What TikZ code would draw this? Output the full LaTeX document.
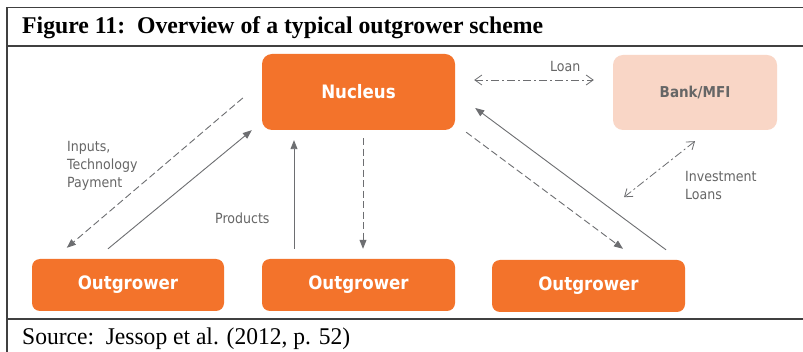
\documentclass[tikz,border=0pt]{standalone}
\usepackage{fontspec}
\usepackage{graphicx}
\setmainfont{Liberation Serif}
\newfontfamily\labfont{DejaVu Sans Condensed}
\usetikzlibrary{arrows.meta,calc}
\definecolor{orng}{HTML}{F3732B}
\definecolor{peach}{HTML}{F9D6C6}
\definecolor{txtgray}{HTML}{666666}
\definecolor{arrgray}{HTML}{6D6E71}
\definecolor{framegray}{HTML}{404040}
\tikzset{
  mainbox/.style={draw=none,fill=orng,rounded corners=10pt,text=white,font=\labfont\bfseries\fontsize{18.5}{20}\selectfont,inner sep=0pt},
  growbox/.style={mainbox,rounded corners=8pt},
  bankbox/.style={draw=none,fill=peach,rounded corners=10pt,text=txtgray,font=\labfont\bfseries\fontsize{15}{17}\selectfont,inner sep=0pt},
  lbl/.style={text=txtgray,font=\labfont\fontsize{14}{18}\selectfont,align=left,inner sep=0pt,anchor=west},
  flowsolid/.style={draw=arrgray,line width=0.9pt,-{Triangle[length=9pt,width=7pt]}},
  flowdash/.style={flowsolid,dash pattern=on 7pt off 3.5pt},
  flowloan/.style={draw=arrgray,line width=0.8pt,dash pattern=on 8pt off 3pt on 2pt off 3pt,{Straight Barb[length=7pt,width=10pt]}-{Straight Barb[length=7pt,width=10pt]}},
  framel/.style={draw=framegray,line width=1.4pt}
}
\begin{document}
\begin{tikzpicture}[x=1pt,y=-1pt]
\useasboundingbox (0,0) rectangle (803,352);
\fill[white] (0,0) rectangle (803,352);
% frame
\draw[framel] (803,7.5) -- (7,7.5) -- (7,352);
\draw[framel] (7,46) -- (803,46);
\draw[framel] (7,319) -- (803,319);
\node[anchor=base west,inner sep=0pt,font=\bfseries\fontsize{24}{26}\selectfont] (title) at (22,34) {\resizebox{521pt}{\height}{Figure 11:\ \ Overview of a typical outgrower scheme}};
\node[anchor=base west,inner sep=0pt,font=\fontsize{24}{26}\selectfont] (source) at (22,345) {\resizebox{328pt}{\height}{Source:\ \ Jessop et al. (2012, p. 52)}};
% boxes
\node[mainbox,minimum width=193pt,minimum height=76pt] (nuc) at (358.5,92) {Nucleus};
\node[bankbox,minimum width=164pt,minimum height=75pt] (bank) at (695,92.5) {Bank/MFI};
\node[growbox,minimum width=192pt,minimum height=52pt] (o1) at (128,285) {Outgrower};
\node[growbox,minimum width=193pt,minimum height=52pt] (o2) at (358.5,285) {Outgrower};
\node[growbox,minimum width=193pt,minimum height=52pt] (o3) at (588.5,286) {Outgrower};
% connectors
\draw[flowdash] ($(nuc.west)+(-19,6)$) -- ($(o1.north west)+(35,-11)$);
\draw[flowsolid] ($(o1.north)+(-20,-10)$) -- ($(nuc.south west)+(-10,0)$);
\draw[flowsolid] ($(o2.north)+(-64.5,-10)$) -- ($(nuc.south)+(-64.5,10)$);
\draw[flowdash] ($(nuc.south)+(4.5,8)$) -- ($(o2.north)+(4.5,-10)$);
\draw[flowdash] ($(nuc.south east)+(11,2)$) -- ($(o3.north)+(34.5,-11)$);
\draw[flowsolid] ($(o3.north)+(77.5,-10)$) -- ($(nuc.east)+(20,16)$);
\draw[flowloan] ($(nuc.east)+(19,-12)$) -- ($(bank.west)+(-19,-12.5)$);
\draw[flowloan] ($(bank.south)+(-71,67)$) -- ($(bank.south)+(0,11)$);
% labels
\node[lbl] (linputs) at (67,166) {Inputs,\\Technology\\Payment};
\node[lbl] (lprod) at (215,218) {Products};
\node[lbl] (lloan) at (550,67) {Loan};
\node[lbl] (linv) at (685,185.5) {Investment\\Loans};
\end{tikzpicture}
\end{document}
